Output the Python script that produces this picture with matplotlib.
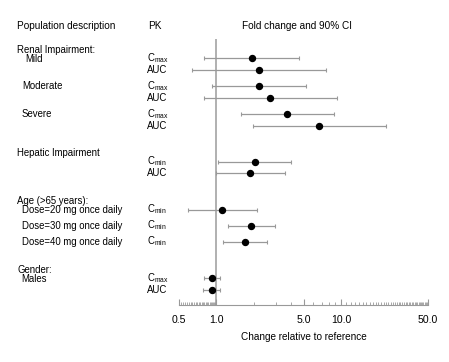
import numpy as np
import matplotlib
matplotlib.use("Agg")
import matplotlib.pyplot as plt
import matplotlib.transforms as mtrans

plt.rcParams['font.family'] = ['Liberation Sans', 'DejaVu Sans']

# PK parameter per row, point estimate and 90% CI
pk = ["max", "AUC", "max", "AUC", "max", "AUC",
      "min", "AUC", "min", "min", "min", "max", "AUC"]
fold = [1.94, 2.21, 2.20, 2.71, 3.71, 6.70, 2.04, 1.87, 1.11, 1.90, 1.69, 0.92, 0.92]
ci_lo = [0.80, 0.64, 0.92, 0.79, 1.57, 1.96, 1.03, 0.99, 0.59, 1.23, 1.12, 0.79, 0.78]
ci_hi = [4.62, 7.54, 5.24, 9.34, 8.84, 23.0, 3.97, 3.55, 2.10, 2.97, 2.55, 1.07, 1.07]

groups = ["Renal Impairment:", "Hepatic Impairment", "Age (>65 years):", "Gender:"]
subgroups = ["Mild", "Moderate", "Severe",
             "Dose=20 mg once daily", "Dose=30 mg once daily", "Dose=40 mg once daily",
             "Males"]
xticks = [0.5, 1.0, 5.0, 10.0, 50.0]

# layout (pixel rows from the top of the picture)
row_y = [58, 70, 86, 98, 114, 125.5, 161.5, 172.5, 209.5, 225.5, 241.5, 278, 289.5]
group_y = [49.5, 153, 200.5, 269.5]
group_x = [17, 17, 17, 17]
sub_y = [59, 86, 114, 210, 225.5, 241.5, 279]
sub_x = [25, 22, 22, 22, 22, 22, 21]

W, H = 449, 362
fig = plt.figure(figsize=(W / 100, H / 100), dpi=100)
ax = fig.add_axes([179 / W, 1 - 305 / H, (428 - 179) / W, (305 - 39) / H])
ax.set_xscale('log')
ax.set_xlim(0.5, 50)
ax.set_ylim(305, 39)

for s in ['top', 'right', 'left']:
    ax.spines[s].set_visible(False)
ax.spines['bottom'].set_color('#999999')
ax.set_yticks([])

ax.axvline(1.0, color='#aaaaaa', lw=1.3, zorder=1)

fold = np.array(fold)
err = np.vstack([fold - np.array(ci_lo), np.array(ci_hi) - fold])
ax.errorbar(fold, row_y, xerr=err, fmt='o', color='black', ms=4.3,
            ecolor='#999999', elinewidth=0.9, capsize=1.6, capthick=0.8, zorder=3)

ax.set_xticks(xticks)
ax.set_xticklabels(["%.1f" % t for t in xticks], fontsize=7.6)
minor = list(np.arange(0.52, 1.0, 0.02)) + [2, 3, 4, 6, 7, 8, 9] + list(range(11, 50))
ax.set_xticks(minor, minor=True)
ax.tick_params(axis='x', which='major', direction='in', length=4, color='#999999', pad=7)
ax.tick_params(axis='x', which='minor', direction='in', length=2, color='#999999')
ax.tick_params(axis='x', which='minor', labelbottom=False)
ax.set_xlabel("Change relative to reference", fontsize=7.2, labelpad=5)

fs = 6.9
tr = mtrans.blended_transform_factory(fig.transFigure, ax.transData)
ax.text(17 / W, 26, "Population description", transform=tr, fontsize=7.2, va='center')
ax.text(148 / W, 26, "PK", transform=tr, fontsize=7.2, va='center')
ax.text(297 / W, 26, "Fold change and 90% CI", transform=tr, fontsize=7.2,
        va='center', ha='center')
for name, x, y in zip(groups, group_x, group_y):
    ax.text(x / W, y, name, transform=tr, fontsize=fs, va='center')
for name, x, y in zip(subgroups, sub_x, sub_y):
    ax.text(x / W, y, name, transform=tr, fontsize=fs, va='center')
for p, y in zip(pk, row_y):
    label = p if p == "AUC" else r"C$\mathregular{_{%s}}$" % p
    ax.text(147 / W, y, label, transform=tr, fontsize=fs, va='center')

fig.savefig("out.png", dpi=100)
